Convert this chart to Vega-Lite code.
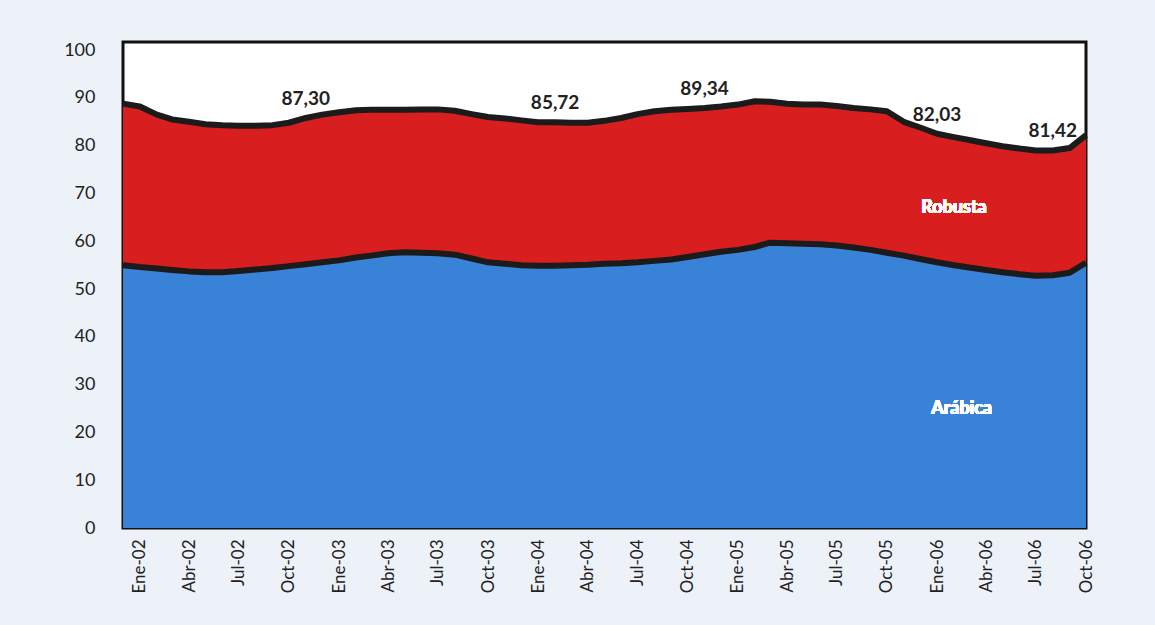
{
  "$schema": "https://vega.github.io/schema/vega-lite/v6.json",
  "width": 963,
  "height": 486,
  "autosize": {"type": "none"},
  "padding": {"left": 123, "top": 42, "right": 69, "bottom": 97},
  "background": "#edf2f9",
  "config": {
    "view": {"stroke": "#111111", "strokeWidth": 3, "fill": "white"},
    "font": "Lato"
  },
  "data": {
    "values": [
      {"fecha": "2001-12-01", "arabica": 55.0, "total": 88.8},
      {"fecha": "2002-01-01", "arabica": 54.6, "total": 88.2},
      {"fecha": "2002-02-01", "arabica": 54.3, "total": 86.5},
      {"fecha": "2002-03-01", "arabica": 54.0, "total": 85.5},
      {"fecha": "2002-04-01", "arabica": 53.7, "total": 85.0},
      {"fecha": "2002-05-01", "arabica": 53.5, "total": 84.5},
      {"fecha": "2002-06-01", "arabica": 53.5, "total": 84.3},
      {"fecha": "2002-07-01", "arabica": 53.8, "total": 84.2},
      {"fecha": "2002-08-01", "arabica": 54.1, "total": 84.2},
      {"fecha": "2002-09-01", "arabica": 54.4, "total": 84.3},
      {"fecha": "2002-10-01", "arabica": 54.8, "total": 84.8},
      {"fecha": "2002-11-01", "arabica": 55.2, "total": 85.8, "etiqueta": "87,30"},
      {"fecha": "2002-12-01", "arabica": 55.6, "total": 86.5},
      {"fecha": "2003-01-01", "arabica": 56.0, "total": 87.0},
      {"fecha": "2003-02-01", "arabica": 56.6, "total": 87.4},
      {"fecha": "2003-03-01", "arabica": 57.0, "total": 87.5},
      {"fecha": "2003-04-01", "arabica": 57.5, "total": 87.5},
      {"fecha": "2003-05-01", "arabica": 57.7, "total": 87.5},
      {"fecha": "2003-06-01", "arabica": 57.6, "total": 87.6},
      {"fecha": "2003-07-01", "arabica": 57.5, "total": 87.6},
      {"fecha": "2003-08-01", "arabica": 57.2, "total": 87.3},
      {"fecha": "2003-09-01", "arabica": 56.4, "total": 86.6},
      {"fecha": "2003-10-01", "arabica": 55.6, "total": 86.0},
      {"fecha": "2003-11-01", "arabica": 55.3, "total": 85.7},
      {"fecha": "2003-12-01", "arabica": 55.0, "total": 85.3},
      {"fecha": "2004-01-01", "arabica": 54.9, "total": 84.9},
      {"fecha": "2004-02-01", "arabica": 54.9, "total": 84.9, "etiqueta": "85,72"},
      {"fecha": "2004-03-01", "arabica": 55.0, "total": 84.8},
      {"fecha": "2004-04-01", "arabica": 55.1, "total": 84.8},
      {"fecha": "2004-05-01", "arabica": 55.3, "total": 85.2},
      {"fecha": "2004-06-01", "arabica": 55.4, "total": 85.8},
      {"fecha": "2004-07-01", "arabica": 55.6, "total": 86.6},
      {"fecha": "2004-08-01", "arabica": 55.9, "total": 87.2},
      {"fecha": "2004-09-01", "arabica": 56.2, "total": 87.5},
      {"fecha": "2004-10-01", "arabica": 56.7, "total": 87.7},
      {"fecha": "2004-11-01", "arabica": 57.3, "total": 87.9, "etiqueta": "89,34"},
      {"fecha": "2004-12-01", "arabica": 57.8, "total": 88.2},
      {"fecha": "2005-01-01", "arabica": 58.2, "total": 88.6},
      {"fecha": "2005-02-01", "arabica": 58.8, "total": 89.3},
      {"fecha": "2005-03-01", "arabica": 59.7, "total": 89.2},
      {"fecha": "2005-04-01", "arabica": 59.6, "total": 88.8},
      {"fecha": "2005-05-01", "arabica": 59.5, "total": 88.6},
      {"fecha": "2005-06-01", "arabica": 59.4, "total": 88.6},
      {"fecha": "2005-07-01", "arabica": 59.1, "total": 88.3},
      {"fecha": "2005-08-01", "arabica": 58.7, "total": 87.9},
      {"fecha": "2005-09-01", "arabica": 58.2, "total": 87.6},
      {"fecha": "2005-10-01", "arabica": 57.6, "total": 87.2},
      {"fecha": "2005-11-01", "arabica": 57.0, "total": 85.0},
      {"fecha": "2005-12-01", "arabica": 56.3, "total": 83.8},
      {"fecha": "2006-01-01", "arabica": 55.6, "total": 82.5, "etiqueta": "82,03"},
      {"fecha": "2006-02-01", "arabica": 55.0, "total": 81.8},
      {"fecha": "2006-03-01", "arabica": 54.5, "total": 81.2},
      {"fecha": "2006-04-01", "arabica": 54.0, "total": 80.5},
      {"fecha": "2006-05-01", "arabica": 53.5, "total": 79.9},
      {"fecha": "2006-06-01", "arabica": 53.1, "total": 79.4},
      {"fecha": "2006-07-01", "arabica": 52.8, "total": 79.0},
      {"fecha": "2006-08-01", "arabica": 52.9, "total": 79.0, "etiqueta": "81,42"},
      {"fecha": "2006-09-01", "arabica": 53.4, "total": 79.5},
      {"fecha": "2006-10-01", "arabica": 55.5, "total": 82.2}
    ]
  },
  "encoding": {
    "x": {
      "field": "fecha",
      "type": "temporal",
      "title": null,
      "scale": {
        "type": "utc",
        "domain": [
          {"year": 2001, "month": 12, "date": 1, "utc": true},
          {"year": 2006, "month": 10, "date": 1, "utc": true}
        ]
      },
      "axis": {
        "values": [
          {"year": 2002, "month": 1, "date": 1, "utc": true},
          {"year": 2002, "month": 4, "date": 1, "utc": true},
          {"year": 2002, "month": 7, "date": 1, "utc": true},
          {"year": 2002, "month": 10, "date": 1, "utc": true},
          {"year": 2003, "month": 1, "date": 1, "utc": true},
          {"year": 2003, "month": 4, "date": 1, "utc": true},
          {"year": 2003, "month": 7, "date": 1, "utc": true},
          {"year": 2003, "month": 10, "date": 1, "utc": true},
          {"year": 2004, "month": 1, "date": 1, "utc": true},
          {"year": 2004, "month": 4, "date": 1, "utc": true},
          {"year": 2004, "month": 7, "date": 1, "utc": true},
          {"year": 2004, "month": 10, "date": 1, "utc": true},
          {"year": 2005, "month": 1, "date": 1, "utc": true},
          {"year": 2005, "month": 4, "date": 1, "utc": true},
          {"year": 2005, "month": 7, "date": 1, "utc": true},
          {"year": 2005, "month": 10, "date": 1, "utc": true},
          {"year": 2006, "month": 1, "date": 1, "utc": true},
          {"year": 2006, "month": 4, "date": 1, "utc": true},
          {"year": 2006, "month": 7, "date": 1, "utc": true},
          {"year": 2006, "month": 10, "date": 1, "utc": true}
        ],
        "labelExpr": "['Ene','Feb','Mar','Abr','May','Jun','Jul','Ago','Sep','Oct','Nov','Dic'][utcmonth(datum.value)] + '-' + utcFormat(datum.value, '%y')",
        "labelAngle": 270,
        "labelFontSize": 17,
        "labelColor": "#222222",
        "labelPadding": 11,
        "labelOverlap": false,
        "labelBound": false,
        "labelFlush": false,
        "ticks": false,
        "domain": false,
        "grid": false
      }
    }
  },
  "layer": [
    {
      "mark": {"type": "area", "color": "#d81e1e"},
      "encoding": {
        "y": {
          "field": "total",
          "type": "quantitative",
          "title": null,
          "scale": {"domain": [0, 101.7], "nice": false, "zero": true},
          "axis": {
            "values": [0, 10, 20, 30, 40, 50, 60, 70, 80, 90, 100],
            "labelFontSize": 18,
            "labelColor": "#222222",
            "labelPadding": 28,
            "ticks": false,
            "domain": false,
            "grid": false
          }
        }
      }
    },
    {
      "mark": {"type": "area", "color": "#3883d8"},
      "encoding": {"y": {"field": "arabica", "type": "quantitative", "title": null}}
    },
    {
      "mark": {"type": "line", "color": "#1b1b1b", "strokeWidth": 6, "strokeJoin": "round"},
      "encoding": {"y": {"field": "total", "type": "quantitative", "title": null}}
    },
    {
      "mark": {"type": "line", "color": "#1b1b1b", "strokeWidth": 6, "strokeJoin": "round"},
      "encoding": {"y": {"field": "arabica", "type": "quantitative", "title": null}}
    },
    {
      "transform": [{"filter": "datum.etiqueta != null"}],
      "mark": {"type": "text", "dy": -19, "fontSize": 19, "fontWeight": "bold", "color": "#222222"},
      "encoding": {
        "y": {"field": "total", "type": "quantitative", "title": null},
        "text": {"field": "etiqueta"}
      }
    },
    {
      "mark": {"type": "text", "fontSize": 18, "fontWeight": "bold", "color": "white"},
      "encoding": {
        "x": {"datum": {"year": 2006, "month": 2, "date": 1, "utc": true}, "type": "temporal"},
        "y": {"datum": 67, "type": "quantitative"},
        "text": {"value": "Robusta"}
      }
    },
    {
      "mark": {"type": "text", "fontSize": 18, "fontWeight": "bold", "color": "white"},
      "encoding": {
        "x": {"datum": {"year": 2006, "month": 2, "date": 15, "utc": true}, "type": "temporal"},
        "y": {"datum": 25, "type": "quantitative"},
        "text": {"value": "Arábica"}
      }
    }
  ]
}
